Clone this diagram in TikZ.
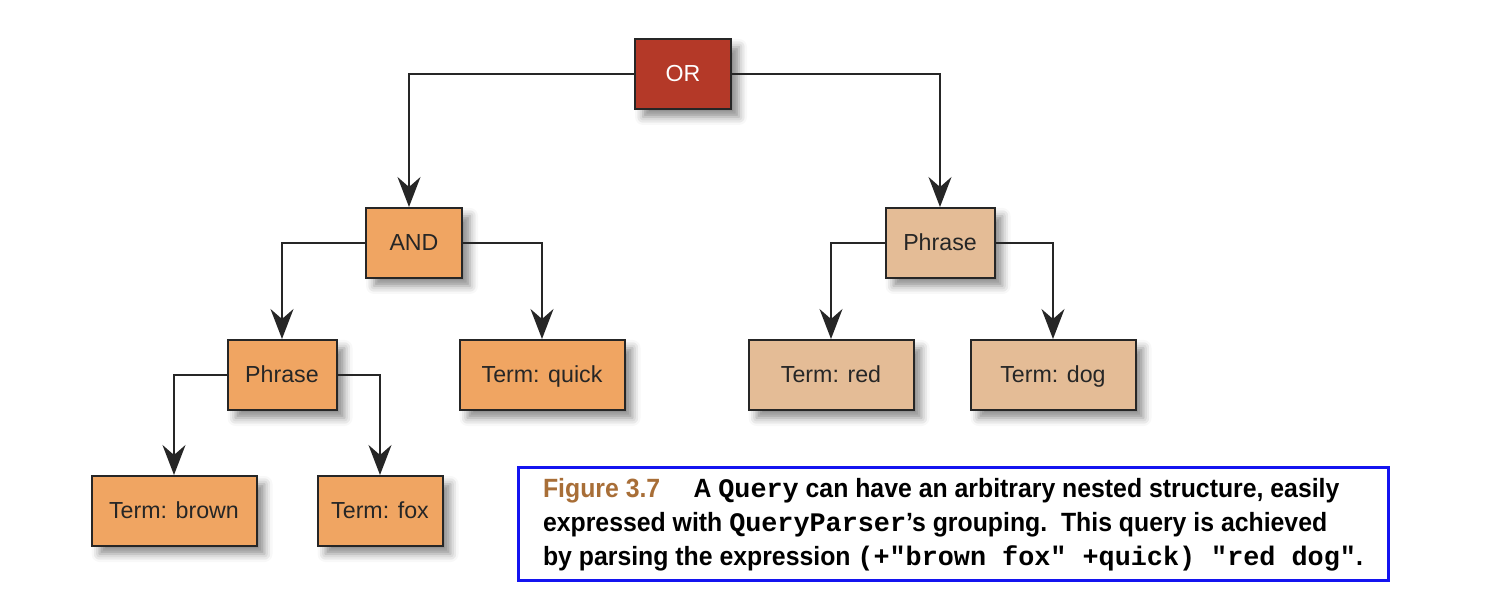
\documentclass[tikz,border=0pt]{standalone}
\usepackage{fontspec}
\setmainfont{Liberation Sans}
\newfontfamily\capfont[FakeStretch=0.94]{Liberation Sans}
\newfontfamily\capmono{Liberation Mono}
\usepackage{tikz}
\usetikzlibrary{arrows.meta,shadows.blur}
\definecolor{orred}{RGB}{180,57,40}
\definecolor{andorange}{RGB}{240,165,98}
\definecolor{phrbeige}{RGB}{228,188,150}
\definecolor{capbrown}{RGB}{168,110,55}
\definecolor{capblue}{RGB}{20,20,240}
\begin{document}
\begin{tikzpicture}[x=0.5pt,y=-0.5pt,
  box/.style={draw=black!85,line width=1pt,minimum height=35pt,inner sep=0pt,
    font=\fontsize{11.6}{14}\selectfont,text=black!85,text height=0.72em,text depth=0pt,
    blur shadow={shadow xshift=4pt,shadow yshift=-4pt,shadow blur radius=4pt,shadow opacity=45}},
  link/.style={draw=black!85,line width=0.8pt,-{Stealth[length=15pt,width=11.5pt,inset=5pt]}}]
\useasboundingbox (0,0) rectangle (1500,613);
\node[box,fill=orred,text=white,minimum width=48pt] (or) at (683,74) {OR};
\node[box,fill=andorange,minimum width=48pt] (and) at (414,243) {AND};
\node[box,fill=phrbeige,minimum width=54.5pt] (phraseR) at (940,243) {Phrase};
\node[box,fill=andorange,minimum width=54.5pt] (phraseL) at (282,375) {Phrase};
\node[box,fill=andorange,minimum width=82.5pt] (quick) at (542,375) {Term: quick};
\node[box,fill=phrbeige,minimum width=82.5pt] (red) at (831,375) {Term: red};
\node[box,fill=phrbeige,minimum width=82.5pt] (dog) at (1053,375) {Term: dog};
\node[box,fill=andorange,minimum width=82.5pt] (brown) at (174,511) {Term: brown};
\node[box,fill=andorange,minimum width=62.5pt] (fox) at (380,511) {Term: fox};
\draw[link] (or.west) -| ([xshift=-2.5pt]and.north);
\draw[link] (or.east) -| (phraseR.north);
\draw[link] (and.west) -| (phraseL.north);
\draw[link] (and.east) -| (quick.north);
\draw[link] (phraseR.west) -| (red.north);
\draw[link] (phraseR.east) -| (dog.north);
\draw[link] (phraseL.west) -| (brown.north);
\draw[link] (phraseL.east) -| (fox.north);
\node[draw=capblue,line width=1.5pt,minimum width=435pt,minimum height=56.5pt,
  align=left,font=\capfont\bfseries\fontsize{13.2}{17}\selectfont] (caption) at (953,524.5)
  {{\color{capbrown}Figure 3.7}\quad\ A {\capmono\bfseries\fontsize{13.4}{17}\selectfont Query} can have an arbitrary nested structure, easily\\
   expressed with {\capmono\bfseries\fontsize{13.4}{17}\selectfont QueryParser}’s grouping.\ \ This query is achieved\\
   by parsing the expression {\capmono\bfseries\fontsize{13.4}{17}\selectfont (+"brown fox" +quick) "red dog"}.};
\end{tikzpicture}
\end{document}
